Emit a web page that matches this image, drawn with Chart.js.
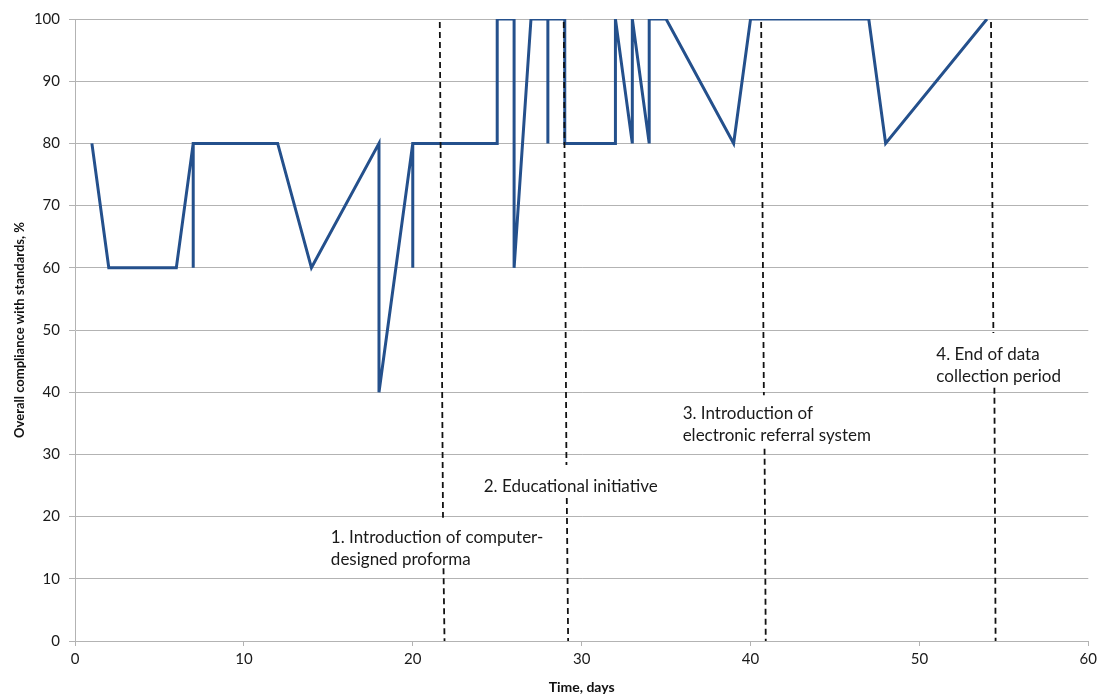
<!DOCTYPE html>
<html>
<head>
<meta charset="utf-8">
<script src="https://cdn.jsdelivr.net/npm/chart.js@4"></script>
<style>
  body { margin: 0; background: #fff; }
  #wrap { width: 1101px; height: 696px; }
</style>
</head>
<body>
<div id="wrap"><canvas id="compliance-chart"></canvas></div>
<script>
// compliance audit series (days vs % compliance)
let days = [1, 2, 6, 7, 7, 7, 12, 14, 18, 18, 20, 20, 20, 25, 25, 26, 26, 27, 28, 28, 28, 29, 29, 32, 32, 33, 33, 34, 34, 35, 39, 40, 47, 48, 54];
let compliance = [80, 60, 60, 80, 60, 80, 80, 60, 80, 40, 80, 60, 80, 80, 100, 100, 60, 100, 100, 80, 100, 100, 80, 80, 100, 80, 100, 80, 100, 100, 80, 100, 100, 80, 100];

// intervention markers: dashed lines broken where the label sits
let markerX = [
	[21.60, 21.79, null, 21.82, 21.88],
	[28.94, 29.10, null, 29.12, 29.20],
	[40.63, 40.79, null, 40.83, 40.90],
	[54.24, 54.38, null, 54.44, 54.51]
];
let markerY = [
	[99.5, 19.8, null, 11.7, 0],
	[99.5, 28.3, null, 23.0, 0],
	[99.5, 39.5, null, 30.9, 0],
	[99.5, 49.5, null, 40.7, 0]
];
let markerText = [
	["1. Introduction of computer-", "designed proforma"],
	["2. Educational initiative"],
	["3. Introduction of", "electronic referral system"],
	["4. End of data", "collection period"]
];
let labelAt = [[15.15, 16.6], [24.2, 24.9], [35.98, 36.5], [51.0, 46.0]];

let xTicks = [0, 10, 20, 30, 40, 50, 60];
let yTicks = [0, 10, 20, 30, 40, 50, 60, 70, 80, 90, 100];

let points = [];
for (let i = 0; i < days.length; i++) {
	points.push({ x: days[i], y: compliance[i] });
}

let datasets = [{
	label: "Compliance",
	data: points,
	borderColor: "#24508c",
	borderWidth: 3,
	pointRadius: 0,
	fill: false,
	tension: 0,
	order: 2
}];

for (let m = 0; m < markerX.length; m++) {
	let pts = [];
	for (let j = 0; j < markerX[m].length; j++) {
		pts.push({ x: markerX[m][j] === null ? markerX[m][j - 1] : markerX[m][j], y: markerY[m][j] });
	}
	datasets.push({
		label: "marker" + (m + 1),
		data: pts,
		borderColor: "#111",
		borderWidth: 1.8,
		borderDash: [6, 4],
		pointRadius: 0,
		spanGaps: false,
		fill: false,
		order: 1
	});
}

// text for the markers, placed in data units
let markerLabels = {
	id: "markerLabels",
	afterDatasetsDraw(chart) {
		let ctx = chart.ctx;
		let xs = chart.scales.x, ys = chart.scales.y;
		ctx.save();
		ctx.font = "17px Lato";
		ctx.fillStyle = "#1a1a1a";
		ctx.textBaseline = "middle";
		ctx.textAlign = "left";
		for (let i = 0; i < markerText.length; i++) {
			let px = xs.getPixelForValue(labelAt[i][0]);
			let py = ys.getPixelForValue(labelAt[i][1]);
			for (let k = 0; k < markerText[i].length; k++) {
				ctx.fillText(markerText[i][k], px, py + k * 22);
			}
		}
		ctx.restore();
	}
};

let ctx = document.getElementById("compliance-chart");
let chart = new Chart(ctx, {
	type: "line",
	data: { datasets: datasets },
	plugins: [markerLabels],
	options: {
		responsive: true,
		maintainAspectRatio: false,
		animation: false,
		layout: { padding: { top: 19, right: 12, left: 0, bottom: 0 } },
		plugins: { legend: { display: false }, tooltip: { enabled: false } },
		scales: {
			x: {
				type: "linear",
				min: 0,
				max: 60,
				afterBuildTicks: (s) => { s.ticks = xTicks.map(v => ({ value: v })); },
				afterFit: (s) => { s.height = 55; },
				grid: { drawOnChartArea: false, drawTicks: true, tickLength: 5, color: "#b3b3b3" },
				border: { color: "#b3b3b3" },
				ticks: { font: { family: "Lato", size: 15 }, color: "#1a1a1a", padding: 4, maxRotation: 0 },
				title: { display: true, text: "Time, days", font: { family: "Lato", size: 14, weight: "bold" }, color: "#111", padding: { top: 0, bottom: 0 } }
			},
			y: {
				min: 0,
				max: 100,
				afterBuildTicks: (s) => { s.ticks = yTicks.map(v => ({ value: v })); },
				afterFit: (s) => { s.width = 75; },
				grid: { color: "#b3b3b3", tickLength: 6 },
				border: { color: "#b3b3b3" },
				ticks: { font: { family: "Lato", size: 15 }, color: "#1a1a1a", padding: 9 },
				title: { display: true, text: "Overall compliance with standards, %", font: { family: "Lato", size: 13, weight: "bold" }, color: "#111", padding: { top: 12, bottom: 0 } }
			}
		}
	}
});
</script>
</body>
</html>
